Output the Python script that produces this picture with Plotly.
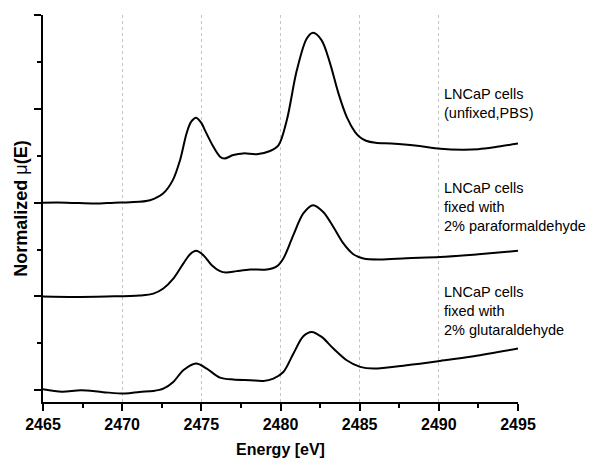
import plotly.graph_objects as go

# ---- data ----
e_top = [2465, 2466.5, 2468.3, 2469.5, 2470.5, 2471.76, 2472.6, 2473.2, 2473.65, 2474.07,
         2474.35, 2474.67, 2475.0, 2475.23, 2475.76, 2476.18, 2476.45, 2477.02, 2477.65,
         2478.5, 2479.34, 2479.87, 2480.4, 2481.03, 2481.66, 2482.06, 2482.6, 2483.13,
         2483.66, 2484.18, 2484.7, 2485.0, 2485.4, 2486.0, 2487.0, 2488.5, 2490.1, 2491.5,
         2492.5, 2493.5, 2495]
mu_top = [2.00, 2.00, 1.99, 2.00, 2.004, 2.026, 2.10, 2.24, 2.45, 2.74,
          2.86, 2.905, 2.85, 2.77, 2.595, 2.49, 2.47, 2.507, 2.525,
          2.517, 2.55, 2.61, 2.88, 3.41, 3.75, 3.81, 3.73, 3.485,
          3.165, 2.915, 2.755, 2.70, 2.66, 2.638, 2.63, 2.61, 2.575, 2.565,
          2.57, 2.59, 2.63]

e_mid = [2465, 2467, 2469, 2471.1, 2471.97, 2472.6, 2473.23, 2473.86, 2474.29, 2474.67,
         2475.13, 2475.66, 2476.18, 2476.56, 2477.23, 2478.08, 2479.13, 2479.76, 2480.18,
         2480.81, 2481.44, 2482.06, 2482.7, 2483.34, 2483.97, 2484.6, 2485.24, 2486.29,
         2487.97, 2490.08, 2492.5, 2495]
mu_mid = [1.00, 0.995, 1.00, 1.01, 1.03, 1.085, 1.19, 1.35, 1.45, 1.486,
          1.44, 1.333, 1.27, 1.255, 1.27, 1.287, 1.287, 1.32, 1.405,
          1.653, 1.885, 1.973, 1.90, 1.74, 1.565, 1.45, 1.405, 1.395,
          1.408, 1.42, 1.45, 1.486]

e_bot = [2465, 2466.2, 2467.4, 2468.8, 2470.2, 2471.1, 2471.97, 2472.6, 2473.23, 2473.86,
         2474.67, 2475.34, 2476.18, 2477.02, 2478.08, 2478.92, 2479.55, 2480.18, 2480.81,
         2481.44, 2481.97, 2482.6, 2483.34, 2484.18, 2485.03, 2485.87, 2487.97, 2490.08,
         2492.2, 2495]
mu_bot = [0.01, -0.015, 0.0, -0.02, -0.035, -0.018, -0.007, 0.018, 0.089, 0.213,
          0.285, 0.231, 0.135, 0.114, 0.107, 0.10, 0.125, 0.195, 0.39,
          0.576, 0.622, 0.569, 0.445, 0.32, 0.249, 0.231, 0.267, 0.313,
          0.363, 0.445]

labels = [
    "LNCaP cells<br>(unfixed,PBS)",
    "LNCaP cells<br>fixed with<br>2% paraformaldehyde",
    "LNCaP cells<br>fixed with<br>2% glutaraldehyde",
]
label_y = [3.06, 1.95, 0.84]
label_x = 2490.2

x_ticks = [2465, 2470, 2475, 2480, 2485, 2490, 2495]

fig = go.Figure()
for e, mu in [(e_top, mu_top), (e_mid, mu_mid), (e_bot, mu_bot)]:
    fig.add_trace(go.Scatter(x=e, y=mu, mode="lines",
                             line=dict(color="black", width=2, shape="spline", smoothing=0.9),
                             showlegend=False, hoverinfo="skip"))

for txt, yy in zip(labels, label_y):
    fig.add_annotation(x=label_x, y=yy, text=txt, showarrow=False, xanchor="left",
                       yanchor="middle", align="left",
                       font=dict(family="Liberation Sans, Arial", size=14.5, color="black"))

fig.update_layout(
    width=590, height=457,
    margin=dict(l=35, r=80, t=7, b=63),
    paper_bgcolor="white", plot_bgcolor="white",
    font=dict(family="Liberation Sans, Arial", color="black"),
    xaxis=dict(
        range=[2465, 2495], tickvals=x_ticks, ticktext=[str(v) for v in x_ticks],
        ticks="outside", ticklen=7, tickwidth=2, tickcolor="black",
        showline=True, linewidth=2, linecolor="black",
        showgrid=True, gridcolor="#c4c4c4", gridwidth=1, griddash="dot",
        zeroline=False,
        minor=dict(ticks="outside", ticklen=4, tickwidth=2, tickcolor="black",
                   dtick=2.5, tick0=2465, showgrid=False),
        tickfont=dict(family="Liberation Sans, Arial", size=16, color="black", weight="bold"),
        title=dict(text="Energy [eV]", standoff=12,
                   font=dict(family="Liberation Sans, Arial", size=16, color="black", weight="bold")),
    ),
    yaxis=dict(
        range=[-0.125, 4.0], tick0=0, dtick=1,
        ticks="outside", ticklen=7, tickwidth=2, tickcolor="black",
        showticklabels=False,
        showline=True, linewidth=2, linecolor="black",
        showgrid=False, zeroline=False,
        minor=dict(ticks="outside", ticklen=4, tickwidth=2, tickcolor="black",
                   dtick=0.5, showgrid=False),
        title=dict(text="<b>Normalized </b>μ<b>(E)</b>", standoff=2,
                   font=dict(family="Liberation Sans, Arial", size=18, color="black")),
    ),
)

fig.write_html("out.html")
